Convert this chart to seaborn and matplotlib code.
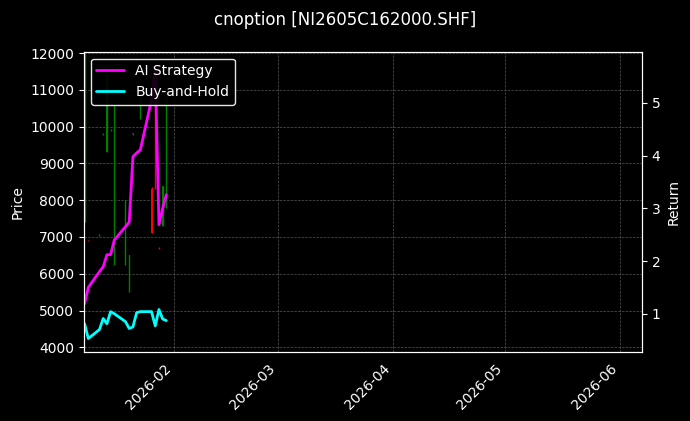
import pandas as pd
import matplotlib
matplotlib.use("Agg")
import matplotlib.pyplot as plt
import matplotlib.dates as mdates
import seaborn as sns

dates = pd.to_datetime([
    "2026-01-08", "2026-01-09", "2026-01-12", "2026-01-13", "2026-01-14", "2026-01-15",
    "2026-01-16", "2026-01-19", "2026-01-20", "2026-01-21", "2026-01-22", "2026-01-23",
    "2026-01-26", "2026-01-27", "2026-01-28", "2026-01-29", "2026-01-30",
])
opens = [7400, 6900, 7050, 9800, 9300, 9900, 6250, 6250, 5500, 9800, 11800, 10200, 8300, 11400, 6700, 7300, 7800]
highs = [12000, 6920, 7070, 9830, 11450, 9930, 10550, 8000, 6500, 9830, 11830, 11000, 8350, 11450, 6720, 8400, 11000]
lows = [7400, 6880, 7030, 9780, 9300, 9880, 6250, 6250, 5500, 9780, 11780, 10200, 7100, 8300, 6680, 7300, 7800]
closes = [11900, 6880, 7060, 9810, 11450, 9910, 10550, 8000, 6500, 9820, 11810, 11000, 7100, 8300, 6690, 8400, 11000]
ai_strategy = [1.19, 1.50, 1.80, 1.89, 2.12, 2.12, 2.40, 2.65, 2.74, 3.98, 4.05, 4.11, 5.06, 5.63, 2.69, 3.00, 3.26]
buy_hold = [0.81, 0.53, 0.70, 0.91, 0.81, 1.04, 1.00, 0.85, 0.72, 0.75, 1.02, 1.04, 1.04, 0.77, 1.08, 0.90, 0.87]

plt.style.use("dark_background")
sns.set_style("dark", {"axes.facecolor": "black", "figure.facecolor": "black",
                       "axes.edgecolor": "white", "text.color": "white",
                       "xtick.color": "white", "ytick.color": "white",
                       "axes.labelcolor": "white", "grid.color": "#555555"})
plt.rcParams["font.family"] = ["DejaVu Sans"]

fig = plt.figure(figsize=(6.9, 4.21), dpi=100)
ax = fig.add_axes([0.1217, 0.1646, 0.8087, 0.7126])

df = pd.DataFrame({"date": dates, "open": opens, "high": highs, "low": lows, "close": closes})
for _, r in df.iterrows():
    c = "green" if r["close"] >= r["open"] else "red"
    ax.vlines(r["date"], r["low"], r["high"], color=c, linewidth=1)
    ax.bar(r["date"], abs(r["close"] - r["open"]) or 20, bottom=min(r["open"], r["close"]),
           width=0.3, color=c, edgecolor="none", linewidth=0)

ax.set_ylim(3880, 12040)
ax.set_ylabel("Price")
ax.set_xlim(pd.Timestamp("2026-01-07 20:00"), pd.Timestamp("2026-06-06 22:00"))
ax.grid(True, linestyle="--", linewidth=0.5, color="#555555")
ax.xaxis.set_major_locator(mdates.MonthLocator())
ax.xaxis.set_major_formatter(mdates.DateFormatter("%Y-%m"))
plt.setp(ax.get_xticklabels(), rotation=45, ha="right")

ax2 = ax.twinx()
ret = pd.DataFrame({"date": dates, "AI Strategy": ai_strategy, "Buy-and-Hold": buy_hold})
sns.lineplot(data=ret, x="date", y="AI Strategy", ax=ax2, color="magenta", linewidth=2, label="AI Strategy")
sns.lineplot(data=ret, x="date", y="Buy-and-Hold", ax=ax2, color="cyan", linewidth=2, label="Buy-and-Hold")
ax2.set_ylim(0.28, 5.97)
ax2.set_ylabel("Return")
ax2.set_xlabel("")
ax2.set_yticks([1, 2, 3, 4, 5])
ax2.legend(loc="upper left", facecolor="black", edgecolor="white", framealpha=0.9)
ax2.set_xlim(ax.get_xlim())

fig.suptitle("cnoption [NI2605C162000.SHF]", y=0.975, fontsize=12)
fig.savefig("out.png", dpi=100, facecolor="black")
